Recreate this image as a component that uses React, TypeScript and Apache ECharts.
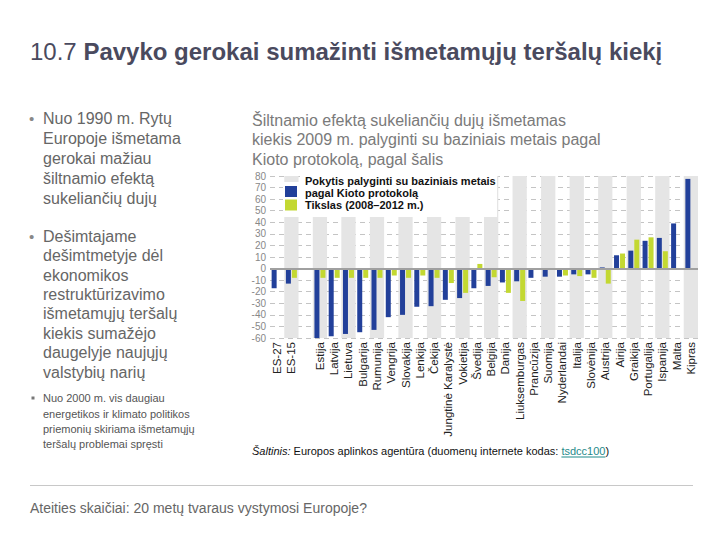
import React, { useEffect, useRef } from "react";
import * as echarts from "echarts";

const FONT = "'Liberation Sans', Arial, sans-serif";

const categories = [
  "ES-27", "ES-15", "", "Estija", "Latvija", "Lietuva", "Bulgarija", "Rumunija",
  "Vengrija", "Slovakija", "Lenkija", "Čekija", "Jungtinė Karalystė", "Vokietija",
  "Švedija", "Belgija", "Danija", "Liuksemburgas", "Prancūzija", "Suomija",
  "Nyderlandai", "Italija", "Slovėnija", "Austrija", "Airija", "Graikija",
  "Portugalija", "Ispanija", "Malta", "Kipras",
];

const changeValues = [
  -17, -13, null, -60, -58.5, -56.5, -55, -53, -42, -40, -33, -32.5, -27, -25.5,
  -17, -15, -12, -11, -8, -7, -7, -5, -5, 1, 11.5, 15.5, 24, 26.5, 39, 77.5,
];

const targetValues = [
  null, -8, null, -8, -8, -8, -8, -8, -6, -8, -6, -8, -12.5, -21,
  4, -7.5, -21, -28, 0, 0, -6, -6.5, -8, -13, 13, 25, 27, 15, null, null,
];

const seriesNames = [
  "Pokytis palyginti su baziniais metais\npagal Kioto protokolą",
  "Tikslas (2008–2012 m.)",
];

const titleNumber = "10.7 ";
const titleText = "Pavyko gerokai sumažinti išmetamųjų teršalų kiekį";
const bullet1 = ["Nuo 1990 m. Rytų", "Europoje išmetama", "gerokai mažiau", "šiltnamio efektą", "sukeliančių dujų"];
const bullet2 = ["Dešimtajame", "dešimtmetyje dėl", "ekonomikos", "restruktūrizavimo", "išmetamųjų teršalų", "kiekis sumažėjo", "daugelyje naujųjų", "valstybių narių"];
const bullet3 = ["Nuo 2000 m. vis daugiau", "energetikos ir klimato politikos", "priemonių skiriama išmetamųjų", "teršalų problemai spręsti"];
const subtitle = ["Šiltnamio efektą sukeliančių dujų išmetamas", "kiekis 2009 m. palyginti su baziniais metais pagal", "Kioto protokolą, pagal šalis"];
const sourceLabel = "Šaltinis:";
const sourceText = " Europos aplinkos agentūra (duomenų internete kodas: ";
const sourceLink = "tsdcc100";
const footer = "Ateities skaičiai: 20 metų tvaraus vystymosi Europoje?";

const BLUE = "#22409a";
const GREEN = "#c3d832";

function measure(text: string, font: string): number {
  const c = document.createElement("canvas").getContext("2d");
  if (!c) return text.length * 5;
  c.font = font;
  return c.measureText(text).width;
}

export default function App() {
  const ref = useRef<HTMLDivElement>(null);

  useEffect(() => {
    if (!ref.current) return;
    const chart = echarts.init(ref.current, null, { renderer: "svg" });

    const titleNumW = measure(titleNumber, `24px ${FONT}`);
    const srcLabelW = measure(sourceLabel, `italic 11px ${FONT}`);
    const srcTextW = measure(sourceText, `11px ${FONT}`);
    const srcLinkW = measure(sourceLink, `11px ${FONT}`);

    const srcX = 252;
    const srcY = 445;

    const graphic: any[] = [
      // title
      { type: "text", x: 30, y: 39, z: 20, style: { text: titleNumber, font: `24px ${FONT}`, fill: "#4a4a5e" } },
      { type: "text", x: 30 + titleNumW, y: 39, z: 20, style: { text: titleText, font: `bold 24px ${FONT}`, fill: "#4a4a5e" } },
      // bullets
      { type: "text", x: 29, y: 108, z: 20, style: { text: "•", font: `15px ${FONT}`, fill: "#888", lineHeight: 20 } },
      { type: "text", x: 43, y: 108, z: 20, style: { text: bullet1.join("\n"), font: `16px ${FONT}`, fill: "#666", lineHeight: 20 } },
      { type: "text", x: 29, y: 226.5, z: 20, style: { text: "•", font: `15px ${FONT}`, fill: "#888", lineHeight: 19.4 } },
      { type: "text", x: 43, y: 226.5, z: 20, style: { text: bullet2.join("\n"), font: `16px ${FONT}`, fill: "#666", lineHeight: 19.4 } },
      { type: "rect", z: 20, shape: { x: 31.5, y: 396.5, width: 3, height: 3 }, style: { fill: "#777" } },
      { type: "text", x: 43, y: 390.5, z: 20, style: { text: bullet3.join("\n"), font: `11px ${FONT}`, fill: "#555", lineHeight: 15.4 } },
      // subtitle
      { type: "text", x: 252, y: 110.5, z: 20, style: { text: subtitle.join("\n"), font: `16px ${FONT}`, fill: "#7a7a7a", lineHeight: 19.5 } },
      // legend box
      { type: "rect", z: 10, shape: { x: 283, y: 182, width: 214, height: 35 }, style: { fill: "#fff" } },
      { type: "rect", z: 10, shape: { x: 300, y: 175, width: 197, height: 8 }, style: { fill: "#fff" } },
      { type: "rect", z: 11, shape: { x: 285, y: 186, width: 12, height: 11 }, style: { fill: BLUE } },
      { type: "rect", z: 11, shape: { x: 285, y: 199.5, width: 12, height: 11 }, style: { fill: GREEN } },
      { type: "text", x: 305, y: 175, z: 11, style: { text: seriesNames[0], font: `bold 11px ${FONT}`, fill: "#111", lineHeight: 12 } },
      { type: "text", x: 305, y: 199, z: 11, style: { text: seriesNames[1], font: `bold 11px ${FONT}`, fill: "#111", lineHeight: 12 } },
      // source
      { type: "text", x: srcX, y: srcY, z: 20, style: { text: sourceLabel, font: `italic 11px ${FONT}`, fill: "#111" } },
      { type: "text", x: srcX + srcLabelW, y: srcY, z: 20, style: { text: sourceText, font: `11px ${FONT}`, fill: "#111" } },
      { type: "text", x: srcX + srcLabelW + srcTextW, y: srcY, z: 20, style: { text: sourceLink, font: `11px ${FONT}`, fill: "#1f8a8a" } },
      { type: "line", z: 20, shape: { x1: srcX + srcLabelW + srcTextW, y1: srcY + 12, x2: srcX + srcLabelW + srcTextW + srcLinkW, y2: srcY + 12 }, style: { stroke: "#1f8a8a", lineWidth: 1 } },
      { type: "text", x: srcX + srcLabelW + srcTextW + srcLinkW, y: srcY, z: 20, style: { text: ")", font: `11px ${FONT}`, fill: "#111" } },
      // separator + footer
      { type: "line", z: 20, shape: { x1: 30, y1: 485.5, x2: 693, y2: 485.5 }, style: { stroke: "#c8c8c8", lineWidth: 1 } },
      { type: "text", x: 30, y: 500.5, z: 20, style: { text: footer, font: `14px ${FONT}`, fill: "#666" } },
    ];

    chart.setOption({
      animation: false,
      backgroundColor: "#fff",
      textStyle: { fontFamily: FONT },
      grid: { left: 270, top: 176, width: 428, height: 162, containLabel: false },
      xAxis: {
        type: "category",
        data: categories,
        axisLine: { show: false },
        axisTick: { show: false },
        axisLabel: { interval: 0, rotate: 90, fontSize: 11.5, color: "#222", margin: 4, fontFamily: FONT },
        splitArea: { show: true, interval: 0, areaStyle: { color: ["rgba(255,255,255,0)", "#e5e5e5"] } },
      },
      yAxis: {
        type: "value",
        min: -60,
        max: 80,
        interval: 10,
        axisLine: { show: false },
        axisTick: { show: false },
        axisLabel: { fontSize: 10, color: "#888", margin: 4, fontFamily: FONT },
        splitLine: { lineStyle: { color: "#c4c4c4", type: [5, 4] } },
      },
      series: [
        {
          name: seriesNames[0],
          type: "bar",
          data: changeValues,
          barWidth: 5,
          barGap: "20%",
          itemStyle: { color: BLUE },
          markLine: {
            silent: true,
            symbol: "none",
            label: { show: false },
            lineStyle: { color: "#a0a0a0", width: 2, type: "solid" },
            data: [{ yAxis: 0 }],
          },
        },
        {
          name: seriesNames[1],
          type: "bar",
          data: targetValues,
          barWidth: 5,
          barGap: "20%",
          itemStyle: { color: GREEN },
        },
      ],
      graphic,
    });

    return () => chart.dispose();
  }, []);

  return <div ref={ref} style={{ position: "absolute", left: 0, top: 0, width: 720, height: 540 }} />;
}
